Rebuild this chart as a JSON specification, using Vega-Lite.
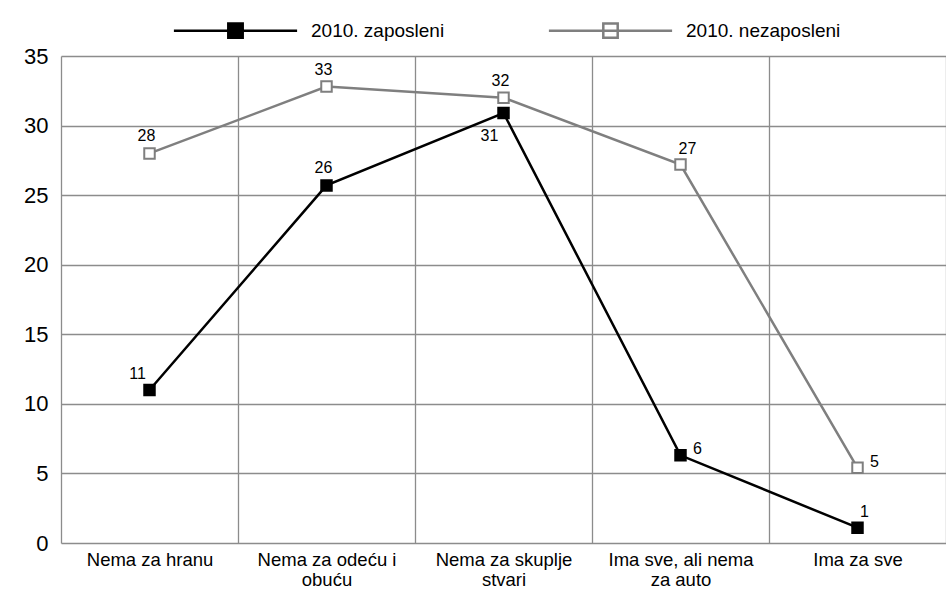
{
  "$schema": "https://vega.github.io/schema/vega-lite/v6.json",
  "width": 885,
  "height": 487,
  "autosize": {"type": "none"},
  "padding": {"left": 61, "top": 56, "right": 0, "bottom": 51},
  "background": "#ffffff",
  "config": {
    "view": {"stroke": null},
    "font": "Liberation Sans",
    "axis": {"labelFont": "Liberation Sans", "labelColor": "#000000", "gridColor": "#8c8c8c", "gridWidth": 1.3, "gridOpacity": 1}
  },
  "data": {
    "values": [
      {"category": "Nema za hranu", "series": "2010. zaposleni", "value": 11.0},
      {"category": "Nema za odeću i obuću", "series": "2010. zaposleni", "value": 25.7},
      {"category": "Nema za skuplje stvari", "series": "2010. zaposleni", "value": 30.9},
      {"category": "Ima sve, ali nema za auto", "series": "2010. zaposleni", "value": 6.3},
      {"category": "Ima za sve", "series": "2010. zaposleni", "value": 1.1},
      {"category": "Nema za hranu", "series": "2010. nezaposleni", "value": 28.0},
      {"category": "Nema za odeću i obuću", "series": "2010. nezaposleni", "value": 32.8},
      {"category": "Nema za skuplje stvari", "series": "2010. nezaposleni", "value": 32.0},
      {"category": "Ima sve, ali nema za auto", "series": "2010. nezaposleni", "value": 27.2},
      {"category": "Ima za sve", "series": "2010. nezaposleni", "value": 5.4}
    ]
  },
  "encoding": {
    "x": {
      "field": "category",
      "type": "nominal",
      "scale": {
        "type": "band",
        "paddingInner": 0,
        "paddingOuter": 0,
        "domain": ["Nema za hranu", "Nema za odeću i obuću", "Nema za skuplje stvari", "Ima sve, ali nema za auto", "Ima za sve"]
      },
      "axis": {
        "title": null,
        "domain": false,
        "ticks": false,
        "grid": true,
        "tickBand": "extent",
        "labelAngle": 0,
        "labelFontSize": 18.5,
        "labelLineHeight": 20,
        "labelPadding": 7,
        "labelOverlap": false,
        "labelExpr": "datum.value == 'Nema za odeću i obuću' ? ['Nema za odeću i', 'obuću'] : datum.value == 'Nema za skuplje stvari' ? ['Nema za skuplje', 'stvari'] : datum.value == 'Ima sve, ali nema za auto' ? ['Ima sve, ali nema', 'za auto'] : datum.value"
      }
    },
    "y": {
      "field": "value",
      "type": "quantitative",
      "scale": {"domain": [0, 35], "nice": false},
      "axis": {
        "title": null,
        "domain": false,
        "ticks": false,
        "values": [0, 5, 10, 15, 20, 25, 30, 35],
        "labelFontSize": 22,
        "labelPadding": 13
      }
    }
  },
  "layer": [
    {
      "mark": {"type": "line", "strokeWidth": 2.5},
      "encoding": {
        "stroke": {
          "field": "series",
          "type": "nominal",
          "scale": {"domain": ["2010. zaposleni", "2010. nezaposleni"], "range": ["#000000", "#7f7f7f"]},
          "legend": {
            "title": null,
            "orient": "none",
            "direction": "horizontal",
            "legendX": 165,
            "legendY": -35,
            "padding": 0,
            "symbolType": "M-7.7,0H7.7M-0.9,-0.9H0.9V0.9H-0.9Z",
            "symbolSize": 256,
            "symbolStrokeWidth": 2.5,
            "labelFontSize": 19,
            "labelFont": "Liberation Sans",
            "labelColor": "#000000",
            "labelOffset": 66,
            "columnPadding": 98
          }
        }
      }
    },
    {
      "mark": {"type": "point", "shape": "square", "filled": true, "size": 110, "strokeWidth": 2, "opacity": 1},
      "encoding": {
        "stroke": {
          "field": "series",
          "type": "nominal",
          "scale": {"domain": ["2010. zaposleni", "2010. nezaposleni"], "range": ["#000000", "#7f7f7f"]},
          "legend": {
            "title": null,
            "orient": "none",
            "direction": "horizontal",
            "legendX": 165,
            "legendY": -35,
            "padding": 0,
            "symbolType": "M-7.7,0H7.7M-0.9,-0.9H0.9V0.9H-0.9Z",
            "symbolSize": 256,
            "symbolStrokeWidth": 2.5,
            "labelFontSize": 19,
            "labelFont": "Liberation Sans",
            "labelColor": "#000000",
            "labelOffset": 66,
            "columnPadding": 98
          }
        },
        "fill": {
          "field": "series",
          "type": "nominal",
          "scale": {"domain": ["2010. zaposleni", "2010. nezaposleni"], "range": ["#000000", "#ffffff"]},
          "legend": {
            "title": null,
            "orient": "none",
            "direction": "horizontal",
            "legendX": 165,
            "legendY": -35,
            "padding": 0,
            "symbolType": "M-7.7,0H7.7M-0.9,-0.9H0.9V0.9H-0.9Z",
            "symbolSize": 256,
            "symbolStrokeWidth": 2.5,
            "labelFontSize": 19,
            "labelFont": "Liberation Sans",
            "labelColor": "#000000",
            "labelOffset": 66,
            "columnPadding": 98
          }
        }
      }
    },
    {
      "transform": [{"filter": "(datum.series == '2010. nezaposleni' && datum.category != 'Ima sve, ali nema za auto' && datum.category != 'Ima za sve') || (datum.series == '2010. zaposleni' && datum.category == 'Nema za odeću i obuću')"}],
      "mark": {"type": "text", "fontSize": 16, "color": "#000000", "dx": -3, "dy": -17},
      "encoding": {"text": {"field": "value", "type": "quantitative", "format": ".0f"}}
    },
    {
      "transform": [{"filter": "datum.series == '2010. zaposleni' && datum.category == 'Nema za hranu'"}],
      "mark": {"type": "text", "fontSize": 16, "color": "#000000", "dx": -12, "dy": -16},
      "encoding": {"text": {"field": "value", "type": "quantitative", "format": ".0f"}}
    },
    {
      "transform": [{"filter": "datum.series == '2010. zaposleni' && datum.category == 'Nema za skuplje stvari'"}],
      "mark": {"type": "text", "fontSize": 16, "color": "#000000", "dx": -14, "dy": 23},
      "encoding": {"text": {"field": "value", "type": "quantitative", "format": ".0f"}}
    },
    {
      "transform": [{"filter": "(datum.series == '2010. nezaposleni' && datum.category == 'Ima sve, ali nema za auto') || (datum.series == '2010. zaposleni' && datum.category == 'Ima za sve')"}],
      "mark": {"type": "text", "fontSize": 16, "color": "#000000", "dx": 7, "dy": -16},
      "encoding": {"text": {"field": "value", "type": "quantitative", "format": ".0f"}}
    },
    {
      "transform": [{"filter": "(datum.series == '2010. zaposleni' && datum.category == 'Ima sve, ali nema za auto') || (datum.series == '2010. nezaposleni' && datum.category == 'Ima za sve')"}],
      "mark": {"type": "text", "fontSize": 16, "color": "#000000", "dx": 17, "dy": -6},
      "encoding": {"text": {"field": "value", "type": "quantitative", "format": ".0f"}}
    }
  ]
}
